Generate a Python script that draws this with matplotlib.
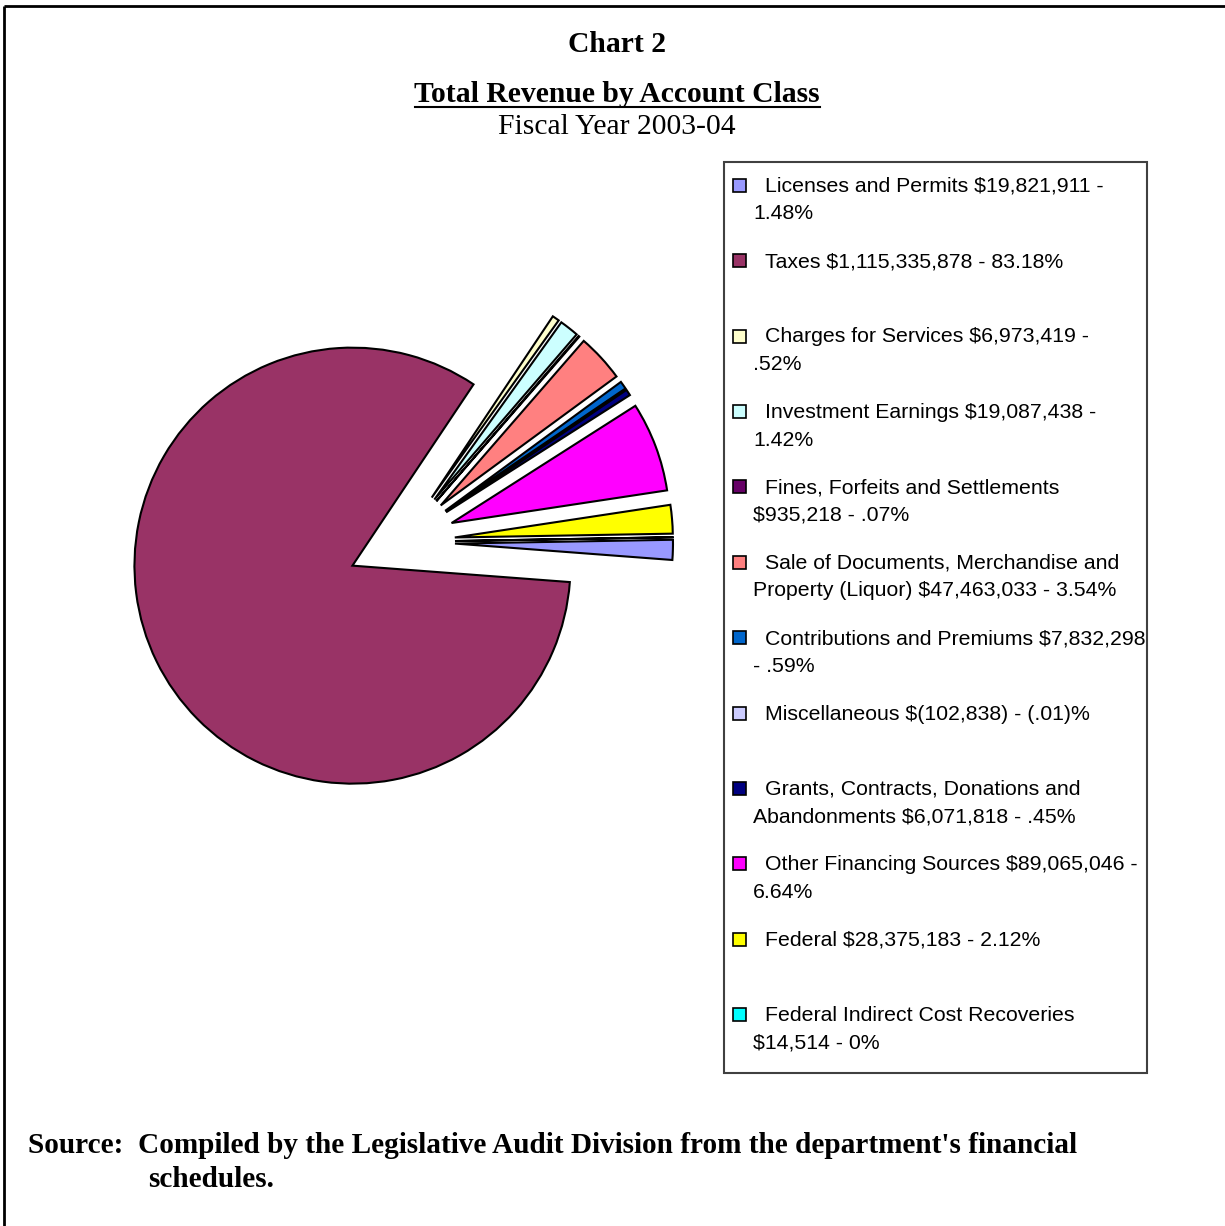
import matplotlib.pyplot as plt
from matplotlib.patches import Rectangle

# Revenue by account class, fiscal year 2003-04 (dollars)
categories = [
    "Licenses and Permits", "Taxes", "Charges for Services", "Investment Earnings",
    "Fines, Forfeits and Settlements", "Sale of Documents, Merchandise and Property (Liquor)",
    "Contributions and Premiums", "Miscellaneous", "Grants, Contracts, Donations and Abandonments",
    "Other Financing Sources", "Federal", "Federal Indirect Cost Recoveries",
]
amounts = [19821911, 1115335878, 6973419, 19087438, 935218, 47463033,
           7832298, -102838, 6071818, 89065046, 28375183, 14514]
colors = ["#9999FF", "#993366", "#FFFFCC", "#CCFFFF", "#660066", "#FF8080",
          "#0066CC", "#CCCCFF", "#000080", "#FF00FF", "#FFFF00", "#00FFFF"]

# legend text, wrapped as in the original
legend_lines = [
    ["Licenses and Permits $19,821,911 -", "1.48%"],
    ["Taxes $1,115,335,878 - 83.18%"],
    ["Charges for Services $6,973,419 -", ".52%"],
    ["Investment Earnings $19,087,438 -", "1.42%"],
    ["Fines, Forfeits and Settlements", "$935,218 - .07%"],
    ["Sale of Documents, Merchandise and", "Property (Liquor) $47,463,033 - 3.54%"],
    ["Contributions and Premiums $7,832,298", "- .59%"],
    ["Miscellaneous $(102,838) - (.01)%"],
    ["Grants, Contracts, Donations and", "Abandonments $6,071,818 - .45%"],
    ["Other Financing Sources $89,065,046 -", "6.64%"],
    ["Federal $28,375,183 - 2.12%"],
    ["Federal Indirect Cost Recoveries", "$14,514 - 0%"],
]

W, H = 1225, 1226
fig = plt.figure(figsize=(W / 100, H / 100), dpi=100)
ax = fig.add_axes([0, 0, 1, 1])

def py(y):
    # pixel row from top -> data y
    return H - y

# negative slice cannot be drawn, it shows as an empty wedge
sizes = [max(a, 0) for a in amounts]
R = 218
ax.pie(sizes, colors=colors, startangle=1, counterclock=False,
       explode=[54] * len(sizes), center=(401, py(542)), radius=R,
       wedgeprops=dict(edgecolor="black", linewidth=1.5))

ax.set_xlim(0, W)
ax.set_ylim(0, H)
ax.set_aspect("auto")
ax.axis("off")

serif = "Liberation Serif"
sans = "Liberation Sans"

# titles
ax.text(617, py(52.5), "Chart 2", ha="center", va="baseline", family=serif,
        fontweight="bold", fontsize=21.3)
ax.text(617, py(102), "Total Revenue by Account Class", ha="center", va="baseline",
        family=serif, fontweight="bold", fontsize=21.3)
ax.plot([415, 820], [py(106.5), py(106.5)], color="black", lw=1.5)
ax.text(617, py(134), "Fiscal Year 2003-04", ha="center", va="baseline", family=serif,
        fontsize=21.3)

# legend box drawn by hand, Excel style
ax.add_patch(Rectangle((724, py(1072.5)), 1147 - 724, 1072.5 - 161.5, facecolor="white",
                       edgecolor="#404040", lw=1.5))
for i, lines in enumerate(legend_lines):
    base = 191.7 + i * 75.4
    ax.add_patch(Rectangle((733, py(base)), 13, 13, facecolor=colors[i],
                           edgecolor="black", lw=1.2))
    ax.text(765, py(base), lines[0], ha="left", va="baseline", family=sans, fontsize=15.3)
    if len(lines) > 1:
        ax.text(753, py(base + 27.6), lines[1], ha="left", va="baseline", family=sans,
                fontsize=15.3)

# source note
ax.text(28, py(1153), "Source:  Compiled by the Legislative Audit Division from the department's financial",
        ha="left", va="baseline", family=serif, fontweight="bold", fontsize=21.1)
ax.text(148, py(1187), "schedules.", ha="left", va="baseline", family=serif,
        fontweight="bold", fontsize=21.1)

# page frame (top and left edges visible)
ax.plot([4, W], [py(6), py(6)], color="black", lw=2, solid_capstyle="butt")
ax.plot([4, 4], [py(6), 0], color="black", lw=2, solid_capstyle="butt")

fig.savefig("out.png", dpi=100)
